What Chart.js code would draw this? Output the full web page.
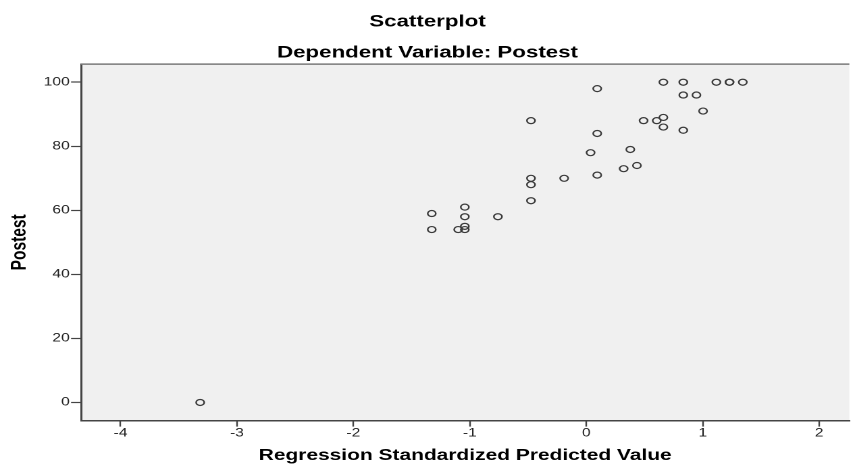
<!DOCTYPE html>
<html>
<head>
<meta charset="utf-8">
<script src="https://cdn.jsdelivr.net/npm/chart.js@4"></script>
<style>
  html, body { margin: 0; padding: 0; background: #ffffff; overflow: hidden; }
  #wrap { position: absolute; left: 0; top: 0; width: 633px; height: 465px;
          transform: scaleX(1.3507); transform-origin: 0 0; }
</style>
</head>
<body>
<div id="wrap"><canvas id="c"></canvas></div>
<script>
// Data
const predictedValues = [0.662, 0.833, 1.117, 1.230, 1.230, 1.344, 0.094, 0.833, 0.946, 1.003,
  -0.475, 0.492, 0.605, 0.662, 0.662, 0.833, 0.094, 0.378, 0.037, 0.435,
  0.321, 0.094, -0.475, -0.190, -0.475, -0.475, -1.043, -1.327, -1.043, -0.759,
  -1.043, -1.327, -1.100, -1.043, -3.316];
const postestValues = [100, 100, 100, 100, 100, 100, 98, 96, 96, 91,
  88, 88, 88, 89, 86, 85, 84, 79, 78, 74,
  73, 71, 70, 70, 68, 63, 61, 59, 58, 58,
  55, 54, 54, 54, 0];
const xTickValues = [-4, -3, -2, -1, 0, 1, 2];
const yTickValues = [0, 20, 40, 60, 80, 100];
const titleText = 'Scatterplot';
const subtitleText = 'Dependent Variable: Postest';
const xTitle = 'Regression Standardized Predicted Value';
const yTitle = 'Postest';

const points = predictedValues.map((x, i) => ({ x: x, y: postestValues[i] }));

const framePlugin = {
  id: 'frame',
  beforeDraw(chart) {
    const { ctx, chartArea: a } = chart;
    ctx.save();
    ctx.fillStyle = '#f0f0f0';
    ctx.fillRect(a.left, a.top, a.right - a.left, a.bottom - a.top);
    ctx.restore();
  },
  afterDraw(chart) {
    const { ctx, chartArea: a } = chart;
    ctx.save();
    ctx.strokeStyle = '#7a7a7a';
    ctx.lineWidth = 1.5;
    ctx.beginPath();
    ctx.moveTo(a.left, a.top);
    ctx.lineTo(a.right, a.top);
    ctx.stroke();
    ctx.restore();
  }
};

const FONT = "'Liberation Sans', Arial, sans-serif";

new Chart(document.getElementById('c'), {
  type: 'scatter',
  data: {
    datasets: [{
      data: points,
      pointStyle: 'circle',
      pointRadius: 3,
      pointHoverRadius: 3,
      pointBorderWidth: 1.2,
      pointBorderColor: '#3a3a3a',
      pointBackgroundColor: 'rgba(0,0,0,0)'
    }]
  },
  options: {
    responsive: true,
    maintainAspectRatio: false,
    animation: false,
    devicePixelRatio: 2,
    layout: { padding: 0 },
    plugins: {
      legend: { display: false },
      tooltip: { enabled: false },
      title: {
        display: true, text: titleText, color: '#000',
        font: { family: FONT, size: 16.5, weight: 'bold' },
        padding: { top: 12, bottom: 0 }
      },
      subtitle: {
        display: true, text: subtitleText, color: '#000',
        font: { family: FONT, size: 16.5, weight: 'bold' },
        padding: { top: 11.3, bottom: 1.2 }
      }
    },
    scales: {
      x: {
        type: 'linear',
        min: -4.339, max: 2.259,
        afterBuildTicks: s => { s.ticks = xTickValues.map(v => ({ value: v })); },
        ticks: { stepSize: 1, includeBounds: false, padding: 0, color: '#222',
                 font: { family: FONT, size: 11.5 } },
        grid: { drawOnChartArea: false, drawTicks: true, tickLength: 6, tickColor: '#444', tickWidth: 1.2 },
        border: { display: true, color: '#444', width: 1.5 },
        title: { display: true, text: xTitle, color: '#000', padding: { top: 6, bottom: 0 },
                 font: { family: FONT, size: 15.5, weight: 'bold' } }
      },
      y: {
        type: 'linear',
        min: -5.66, max: 105.66,
        afterBuildTicks: s => { s.ticks = yTickValues.map(v => ({ value: v })); },
        afterFit: s => { s.width = 60; },
        ticks: { stepSize: 20, includeBounds: false, padding: 1, color: '#222',
                 font: { family: FONT, size: 11.5 } },
        grid: { drawOnChartArea: false, drawTicks: true, tickLength: 7.4, tickColor: '#444', tickWidth: 1.2 },
        border: { display: true, color: '#444', width: 1.5 },
        title: { display: true, text: yTitle, color: '#000', padding: { top: 5.5, bottom: 0 },
                 font: { family: FONT, size: 15.5, weight: 'bold' } }
      }
    }
  },
  plugins: [framePlugin]
});
</script>
</body>
</html>
